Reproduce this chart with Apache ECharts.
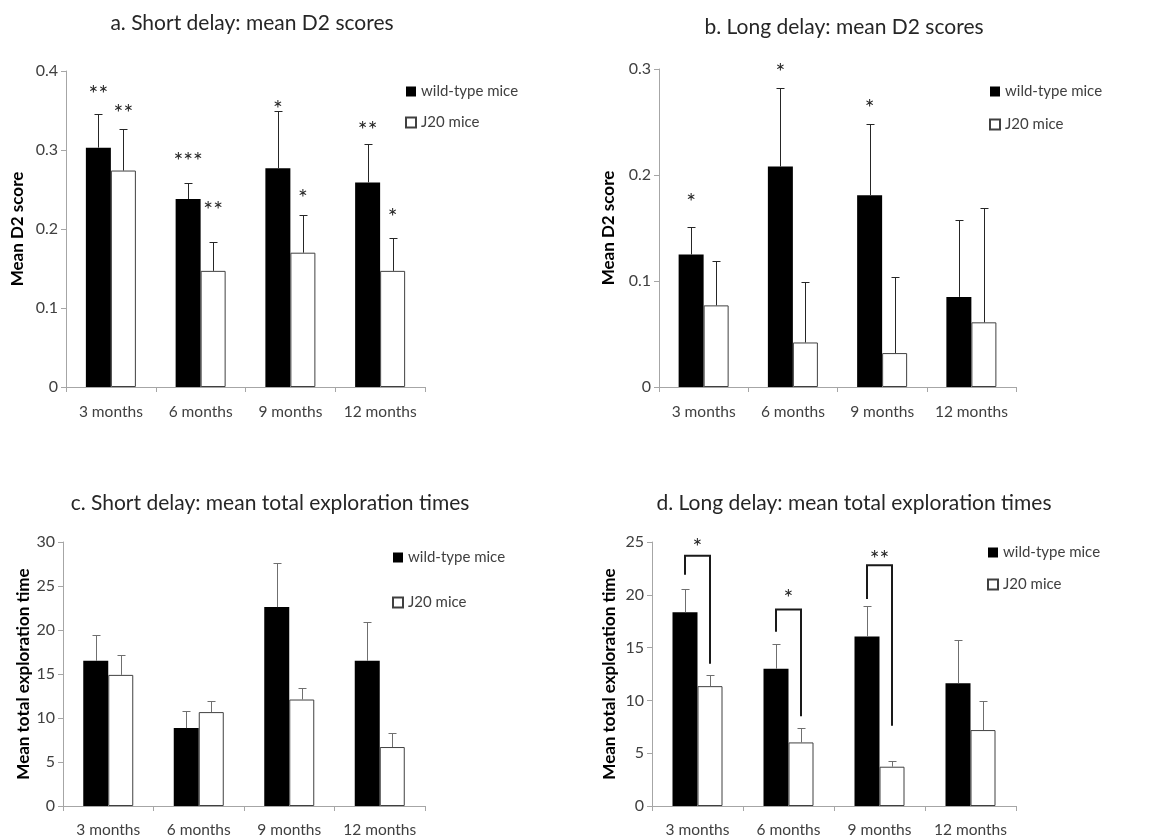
<!DOCTYPE html>
<html>
<head>
<meta charset="utf-8">
<script src="https://cdn.jsdelivr.net/npm/echarts@6/dist/echarts.min.js"></script>
<style>
  html, body { margin: 0; padding: 0; background: #fff; }
  #chart { width: 1173px; height: 838px; }
</style>
</head>
<body>
<div id="chart"></div>
<script>
  // categories
  const months = ['3 months', '6 months', '9 months', '12 months'];

  // a. short delay D2
  const d2ShortWt = [0.303, 0.238, 0.277, 0.259];
  const d2ShortWtSem = [0.043, 0.020, 0.072, 0.049];
  const d2ShortJ20 = [0.274, 0.147, 0.170, 0.147];
  const d2ShortJ20Sem = [0.052, 0.036, 0.048, 0.042];
  const d2ShortWtSig = ['**', '***', '*', '**'];
  const d2ShortWtSigLevel = [0.378, 0.293, 0.359, 0.332];
  const d2ShortJ20Sig = ['**', '**', '*', '*'];
  const d2ShortJ20SigLevel = [0.354, 0.231, 0.246, 0.222];

  // b. long delay D2
  const d2LongWt = [0.125, 0.208, 0.181, 0.085];
  const d2LongWtSem = [0.026, 0.074, 0.067, 0.073];
  const d2LongJ20 = [0.077, 0.042, 0.032, 0.061];
  const d2LongJ20Sem = [0.042, 0.057, 0.072, 0.108];
  const d2LongWtSig = ['*', '*', '*', ''];
  const d2LongWtSigLevel = [0.180, 0.302, 0.268, 0];

  // c. short delay exploration time
  const expShortWt = [16.5, 8.85, 22.6, 16.5];
  const expShortWtSem = [2.9, 1.95, 5.0, 4.4];
  const expShortJ20 = [14.9, 10.67, 12.1, 6.7];
  const expShortJ20Sem = [2.3, 1.23, 1.3, 1.6];

  // d. long delay exploration time
  const expLongWt = [18.35, 13.0, 16.05, 11.63];
  const expLongWtSem = [2.2, 2.3, 2.85, 4.07];
  const expLongJ20 = [11.35, 6.02, 3.72, 7.19];
  const expLongJ20Sem = [1.05, 1.38, 0.54, 2.74];
  // brackets: top, left leg end, right leg end, star level
  const bracketSig = ['*', '*', '**'];
  const bracketTop = [23.7, 18.6, 22.8];
  const bracketLeftEnd = [21.9, 16.5, 19.6];
  const bracketRightEnd = [13.46, 8.5, 7.6];
  const bracketSigLevel = [25.06, 20.2, 23.9];

  const font = 'Lato, "Open Sans", sans-serif';
  const textColor = '#404040';
  const axisColor = '#a6a6a6';
  const barW = 25;
  const half = barW / 2;
  const starFont = '23px ' + font;

  const chart = echarts.init(document.getElementById('chart'));

  function errSeries(gi, vals, sems, offset, color) {
    return {
      type: 'custom', name: 'err' + gi + offset, xAxisIndex: gi, yAxisIndex: gi, z: 5,
      data: vals.map((v, i) => [i, v, sems[i]]),
      renderItem: function (params, api) {
        const i = api.value(0), v = api.value(1), e = api.value(2);
        const p0 = api.coord([i, v]);
        const p1 = api.coord([i, v + e]);
        const x = Math.round(p0[0] + offset) + 0.5;
        const y1 = Math.round(p1[1]) + 0.5;
        const st = { stroke: color, lineWidth: 1 };
        return {
          type: 'group', children: [
            { type: 'line', shape: { x1: x, y1: p0[1], x2: x, y2: y1 }, style: st },
            { type: 'line', shape: { x1: x - 4, y1: y1, x2: x + 4, y2: y1 }, style: st }
          ]
        };
      }
    };
  }

  function starSeries(gi, labels, levels, offset) {
    return {
      type: 'custom', name: 'sig' + gi + offset, xAxisIndex: gi, yAxisIndex: gi, z: 6,
      data: levels.map((v, i) => [i, v]),
      renderItem: function (params, api) {
        const txt = labels[params.dataIndex];
        if (!txt) return null;
        const p = api.coord([api.value(0), api.value(1)]);
        return {
          type: 'text',
          style: {
            x: p[0] + offset, y: p[1] + 6, text: txt, fill: '#262626',
            font: starFont, textAlign: 'center', textVerticalAlign: 'middle'
          }
        };
      }
    };
  }

  function bracketSeries(gi) {
    return {
      type: 'custom', name: 'bracket', xAxisIndex: gi, yAxisIndex: gi, z: 7,
      data: bracketTop.map((v, i) => [i, v, bracketLeftEnd[i], bracketRightEnd[i], bracketSigLevel[i]]),
      renderItem: function (params, api) {
        const i = api.value(0);
        const top = api.coord([i, api.value(1)]);
        const l = api.coord([i, api.value(2)]);
        const r = api.coord([i, api.value(3)]);
        const s = api.coord([i, api.value(4)]);
        const xl = top[0] - half, xr = top[0] + half;
        return {
          type: 'group', children: [
            {
              type: 'polyline',
              shape: { points: [[xl, l[1]], [xl, top[1]], [xr, top[1]], [xr, r[1]]] },
              style: { stroke: '#1a1a1a', lineWidth: 2, fill: null }
            },
            {
              type: 'text',
              style: {
                x: top[0], y: s[1] + 6, text: bracketSig[params.dataIndex], fill: '#262626',
                font: starFont, textAlign: 'center', textVerticalAlign: 'middle'
              }
            }
          ]
        };
      }
    };
  }

  function barPair(gi, wt, j20) {
    return [
      {
        type: 'bar', name: 'wild-type mice', xAxisIndex: gi, yAxisIndex: gi,
        data: wt, barWidth: barW, barGap: '0%', itemStyle: { color: '#000' }
      },
      {
        type: 'bar', name: 'J20 mice', xAxisIndex: gi, yAxisIndex: gi,
        data: j20, barWidth: barW, barGap: '0%',
        itemStyle: { color: '#fff', borderColor: '#404040', borderWidth: 1 }
      }
    ];
  }

  const grids = [
    { left: 66, top: 71, width: 359, height: 316 },
    { left: 659, top: 69, width: 357, height: 318 },
    { left: 63, top: 542, width: 362, height: 265 },
    { left: 652, top: 542, width: 364, height: 265 }
  ];
  const xMargins = [17, 17, 16, 16];

  const xAxes = grids.map((g, gi) => ({
    type: 'category', gridIndex: gi, data: months,
    axisLine: { lineStyle: { color: axisColor, width: 1 } },
    axisTick: { show: true, length: 5, lineStyle: { color: axisColor } },
    axisLabel: {
      color: textColor, fontSize: 15.5, fontFamily: font, margin: xMargins[gi],
      interval: 0, hideOverlap: false
    }
  }));

  const yCfg = [
    { max: 0.4, interval: 0.1, name: 'Mean D2 score', gap: 40 },
    { max: 0.3, interval: 0.1, name: 'Mean D2 score', gap: 42 },
    { max: 30, interval: 5, name: 'Mean total exploration time', gap: 31 },
    { max: 25, interval: 5, name: 'Mean total exploration time', gap: 34 }
  ];
  const yAxes = yCfg.map((c, gi) => ({
    type: 'value', gridIndex: gi, min: 0, max: c.max, interval: c.interval,
    name: c.name, nameLocation: 'middle', nameGap: c.gap,
    nameTextStyle: { color: '#000', fontSize: 17, fontWeight: 'bold', fontFamily: font },
    splitLine: { show: false },
    axisLine: { show: true, lineStyle: { color: axisColor, width: 1 } },
    axisTick: { show: true, length: 5, lineStyle: { color: axisColor } },
    axisLabel: {
      color: textColor, fontSize: 16, fontFamily: font, margin: 8,
      formatter: v => (c.max < 1 ? String(+v.toFixed(1)) : String(v))
    }
  }));

  const titleStyle = { color: '#262626', fontSize: 21, fontWeight: 'normal', fontFamily: font };
  const titles = [
    { text: 'a. Short delay: mean D2 scores', left: 252, top: 13 },
    { text: 'b. Long delay: mean D2 scores', left: 844, top: 17 },
    { text: 'c. Short delay: mean total exploration times', left: 270, top: 493 },
    { text: 'd. Long delay: mean total exploration times', left: 854, top: 493 }
  ].map(t => Object.assign(t, { textAlign: 'center', padding: 0, textStyle: titleStyle }));

  const legendPos = [
    { left: 405, top: 84, itemGap: 16 },
    { left: 989, top: 84, itemGap: 18 },
    { left: 392, top: 550, itemGap: 30 },
    { left: 987, top: 545, itemGap: 17 }
  ];
  const legends = legendPos.map(p => Object.assign({
    orient: 'vertical', icon: 'rect', itemWidth: 10, itemHeight: 10, padding: 0,
    selectedMode: false, data: ['wild-type mice', 'J20 mice'],
    textStyle: { color: textColor, fontSize: 15, fontFamily: font }
  }, p));

  const series = [].concat(
    barPair(0, d2ShortWt, d2ShortJ20),
    [errSeries(0, d2ShortWt, d2ShortWtSem, -half, '#262626'),
     errSeries(0, d2ShortJ20, d2ShortJ20Sem, half, '#262626'),
     starSeries(0, d2ShortWtSig, d2ShortWtSigLevel, -half),
     starSeries(0, d2ShortJ20Sig, d2ShortJ20SigLevel, half)],
    barPair(1, d2LongWt, d2LongJ20),
    [errSeries(1, d2LongWt, d2LongWtSem, -half, '#262626'),
     errSeries(1, d2LongJ20, d2LongJ20Sem, half, '#262626'),
     starSeries(1, d2LongWtSig, d2LongWtSigLevel, -half)],
    barPair(2, expShortWt, expShortJ20),
    [errSeries(2, expShortWt, expShortWtSem, -half, '#6f6f6f'),
     errSeries(2, expShortJ20, expShortJ20Sem, half, '#6f6f6f')],
    barPair(3, expLongWt, expLongJ20),
    [errSeries(3, expLongWt, expLongWtSem, -half, '#6f6f6f'),
     errSeries(3, expLongJ20, expLongJ20Sem, half, '#6f6f6f'),
     bracketSeries(3)]
  );

  chart.setOption({
    animation: false,
    backgroundColor: '#fff',
    title: titles,
    legend: legends,
    grid: grids,
    xAxis: xAxes,
    yAxis: yAxes,
    series: series
  });
</script>
</body>
</html>
